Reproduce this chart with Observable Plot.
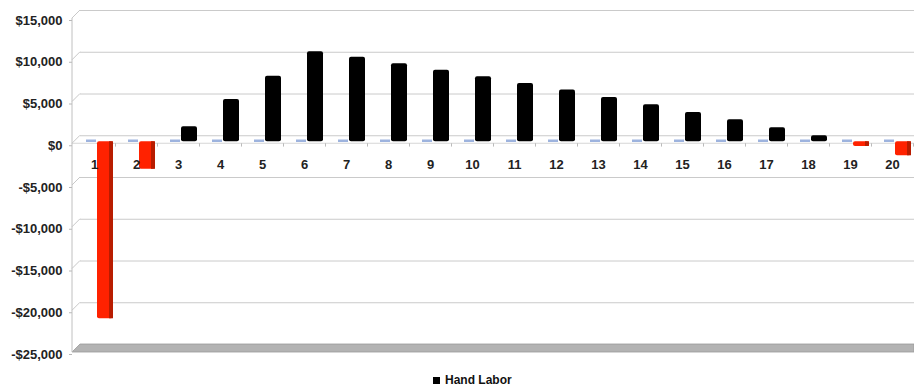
<!DOCTYPE html>
<html>
<head>
<meta charset="utf-8">
<script src="https://cdn.jsdelivr.net/npm/d3@7"></script>
<script src="https://cdn.jsdelivr.net/npm/@observablehq/plot@0.6"></script>
<style>
  body { margin: 0; background: #fff; font-family: "Liberation Sans", Arial, sans-serif; }
  #chart { position: relative; width: 914px; height: 392px; }
  #chart svg g[aria-label="y-axis tick"] path { stroke: #b8b8b8; }
  #legend { position: absolute; top: 373px; left: 433px; font: bold 12px "Liberation Sans", Arial, sans-serif; color: #111; display: flex; align-items: center; }
  #legend span.sw { display: inline-block; width: 7px; height: 7px; background: #000; margin-right: 5px; }
</style>
</head>
<body>
<div id="chart"></div>
<script>
const categories = ["1","2","3","4","5","6","7","8","9","10","11","12","13","14","15","16","17","18","19","20"];
const handLabor = [-21200, -3300, 1800, 5070, 7830, 10790, 10110, 9350, 8550, 7790, 6990, 6200, 5310, 4440, 3510, 2640, 1680, 720, -560, -1680];
const baseSeries = [0,0,0,0,0,0,0,0,0,0,0,0,0,0,0,0,0,0,0,0];
const yTicks = [15000, 10000, 5000, 0, -5000, -10000, -15000, -20000, -25000];
const seriesName = "Hand Labor";

const data = categories.map((c, i) => ({cat: c, v: handLabor[i], base: baseSeries[i]}));
const fmt = d => (d < 0 ? "-$" : "$") + d3.format(",")(Math.abs(d));
const depth = 8;

function walls(index, scales, values, dimensions) {
  const y = scales.y;
  const x0 = dimensions.marginLeft;
  const W = dimensions.width;
  const g = d3.create("svg:g");
  const yTop = y(yTicks[0]);
  const yBot = y(yTicks[yTicks.length - 1]);
  for (const t of yTicks.slice(0, -1)) {
    g.append("line").attr("x1", x0).attr("y1", y(t)).attr("x2", x0 + depth).attr("y2", y(t) - depth)
      .attr("stroke", "#c8c8c8");
  }
  g.append("line").attr("x1", x0).attr("y1", y(0)).attr("x2", W).attr("y2", y(0)).attr("stroke", "#d6d6d6");
  g.append("path")
    .attr("d", `M${x0},${yBot}L${x0 + depth},${yBot - depth}L${W},${yBot - depth}L${W},${yBot}Z`)
    .attr("fill", "#b3b3b3").attr("stroke", "#9a9a9a").attr("stroke-width", 0.8);
  g.append("line").attr("x1", x0).attr("y1", yTop).attr("x2", x0).attr("y2", yBot).attr("stroke", "#c0c0c0");
  return g.node();
}

const chart = Plot.plot({
  width: 914,
  height: 366,
  marginLeft: 72,
  marginRight: 0,
  marginTop: 18,
  marginBottom: 14,
  style: {fontFamily: "Liberation Sans, Arial, sans-serif", fontSize: "13px", fontWeight: "bold", color: "#222", background: "#fff"},
  x: {domain: categories, padding: 0, axis: null},
  y: {domain: [-25000, 15000], label: null},
  marks: [
    Plot.ruleY(yTicks.slice(0, -1), {insetLeft: depth, dy: -depth, stroke: "#cacaca"}),
    walls,
    Plot.axisY({ticks: yTicks, tickFormat: fmt, tickSize: 3, tickPadding: 7, dy: 2, label: null, fontWeight: "bold", fontSize: 13}),
    Plot.ruleX(data, {x: "cat", y1: 0, y2: -400, dx: 21, stroke: "#bbb"}),
    Plot.tickY(data, {x: "cat", y: "base", insetLeft: 13, insetRight: 19, dy: -3, stroke: "#9db3de", strokeWidth: 2.5}),
    Plot.barY(data, {x: "cat", y: "v", fill: d => d.v < 0 ? "#ff2200" : "#000000", insetLeft: 24, insetRight: 2, dy: -2, rx: 2}),
    Plot.barY(data.filter(d => d.v < 0), {x: "cat", y: "v", fill: "#b81c00", insetLeft: 36, insetRight: 2, dy: -2}),
    Plot.text(data, {x: "cat", y: "base", text: "cat", dy: 21, fontWeight: "bold", fontSize: 13, fill: "#222"})
  ]
});
document.getElementById("chart").appendChild(chart);
const lg = document.createElement("div");
lg.id = "legend";
lg.innerHTML = `<span class="sw"></span><span></span>`;
lg.lastChild.textContent = seriesName;
document.getElementById("chart").appendChild(lg);
</script>
</body>
</html>
